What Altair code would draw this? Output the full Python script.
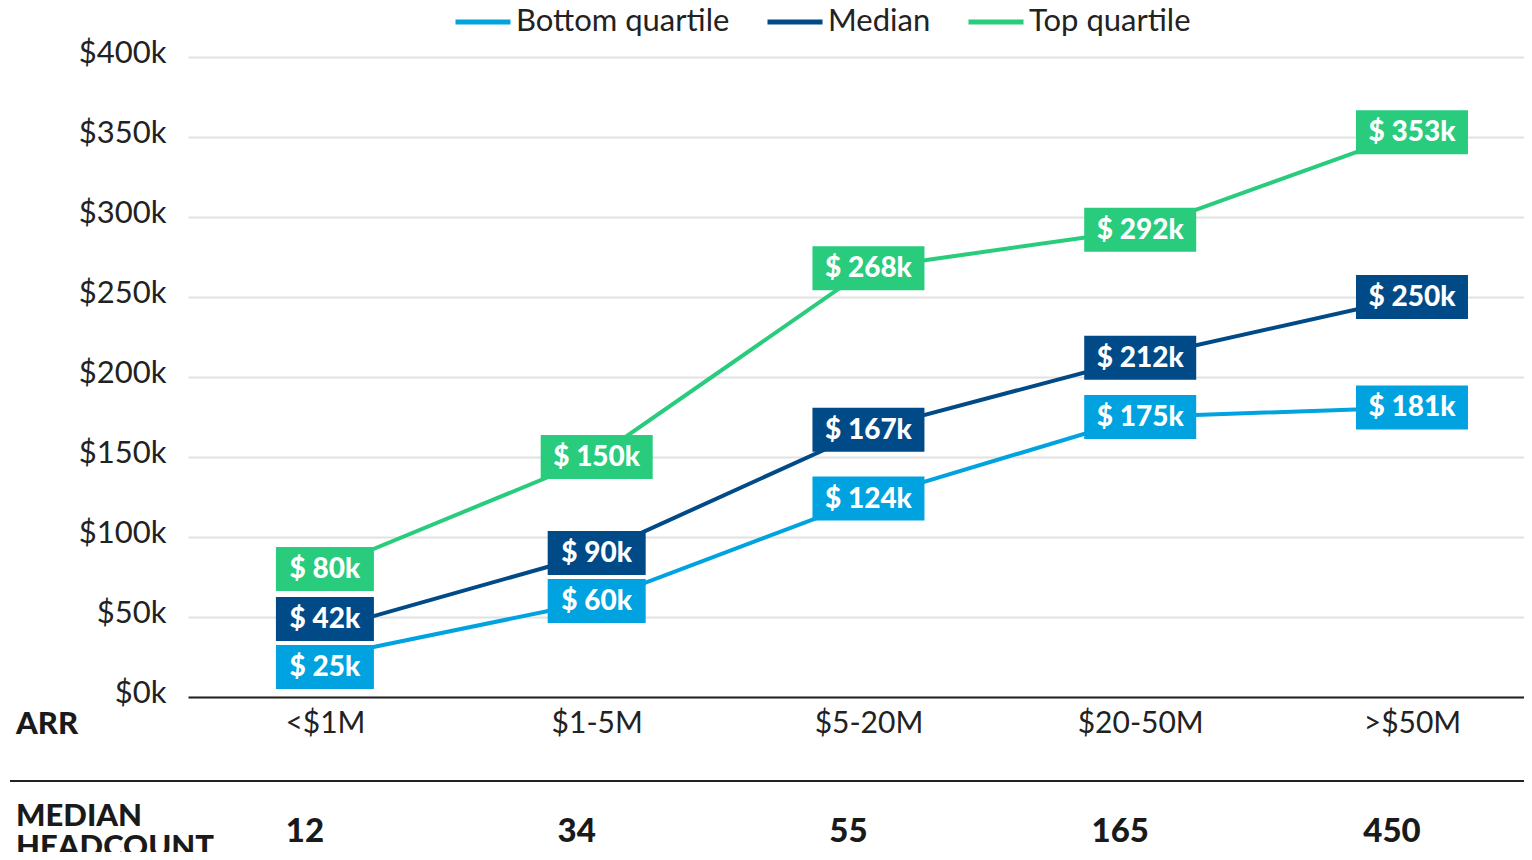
import altair as alt
import pandas as pd

categories = ["<$1M", "$1-5M", "$5-20M", "$20-50M", ">$50M"]
bottom_quartile = [25, 60, 124, 175, 181]
median = [42, 90, 167, 212, 250]
top_quartile = [80, 150, 268, 292, 353]
headcount = [12, 34, 55, 165, 450]

series_names = ["Bottom quartile", "Median", "Top quartile"]
series_colors = ["#00A3DF", "#004A87", "#28CC7C"]

FONT = "Lato"

# label nudges (in $k) to keep the first column's boxes from overlapping
nudge = {("<$1M", "Median"): 6.75, ("<$1M", "Bottom quartile"): -6.25}
HALF = 13.75

rows = []
for name, vals in zip(series_names, [bottom_quartile, median, top_quartile]):
    for c, v in zip(categories, vals):
        ly = v + nudge.get((c, name), 0)
        rows.append({
            "cat": c, "series": name, "v": v, "label": f"$ {v}k",
            "ly": ly, "lo": ly - HALF, "hi": ly + HALF,
            "w": 70 + 14 * len(str(v)),
        })
df = pd.DataFrame(rows)

hc = pd.DataFrame({"cat": categories, "hc": [str(h) for h in headcount]})
one = pd.DataFrame({"k": [0]})

xscale = alt.Scale(type="point", domain=categories, padding=0.458, align=0.55)
xs = alt.X("cat:N", sort=categories, scale=xscale)
color = alt.Color(
    "series:N",
    scale=alt.Scale(domain=series_names, range=series_colors),
    legend=alt.Legend(
        orient="none", legendX=265, legendY=-65, direction="horizontal",
        title=None, symbolType="stroke", symbolSize=3025, symbolStrokeWidth=5,
        labelFontSize=31, labelFont=FONT, labelColor="#222222", labelOffset=3,
        columnPadding=27, labelLimit=400,
    ),
)

x = alt.X(
    "cat:N", sort=categories, scale=xscale,
    axis=alt.Axis(title=None, labelAngle=0, ticks=False, grid=False,
                  domainColor="#222222", domainWidth=2, labelFontSize=30,
                  labelFont=FONT, labelColor="#222222", labelPadding=11),
)
y = alt.Y(
    "v:Q", scale=alt.Scale(domain=[0, 400], nice=False),
    axis=alt.Axis(title=None, values=list(range(0, 401, 50)),
                  labelExpr="'$' + datum.value + 'k'", grid=True,
                  gridColor="#E2E2E2", gridWidth=2, domain=False, ticks=False,
                  labelPadding=22, labelFontSize=31, labelFont=FONT,
                  labelColor="#222222", labelOffset=-4),
)

lines = alt.Chart(df).mark_line(strokeWidth=4).encode(x=x, y=y, color=color)

boxes = alt.Chart(df).mark_bar().encode(
    x=xs,
    y=alt.Y("lo:Q"),
    y2="hi:Q",
    size=alt.Size("w:Q", scale=None, legend=None),
    color=alt.Color("series:N", legend=None),
)

labels = alt.Chart(df).mark_text(
    font=FONT, fontWeight=900, fontSize=28, color="white",
    align="center", baseline="middle", dy=1,
).encode(x=xs, y="ly:Q", text="label:N")

hc_text = alt.Chart(hc).mark_text(
    font=FONT, fontWeight=900, fontSize=33, color="#1A1A1A",
    align="center", baseline="middle", dx=-20,
).encode(x=xs, y=alt.value(775), text="hc:N")

def row_label(txt, ypix):
    return alt.Chart(one).mark_text(
        font=FONT, fontWeight=900, fontSize=31, color="#1A1A1A",
        align="left", baseline="middle",
    ).encode(x=alt.value(-172), y=alt.value(ypix), text=alt.value(txt))

arr = row_label("ARR", 668)
med = row_label("MEDIAN", 760)
hcount = row_label("HEADCOUNT", 791)

sep = alt.Chart(one).mark_rule(color="#222222", strokeWidth=2).encode(
    x=alt.value(-178), x2=alt.value(1337), y=alt.value(724)
)

chart = alt.layer(lines, boxes, labels, hc_text, arr, med, hcount, sep).properties(
    width=1336, height=640,
    autosize=alt.AutoSizeParams(type="none"),
    padding={"left": 180, "top": 49, "right": 0, "bottom": 155},
).configure_view(stroke=None)

chart.save("out.html", embed_options={"renderer": "svg", "actions": False})
